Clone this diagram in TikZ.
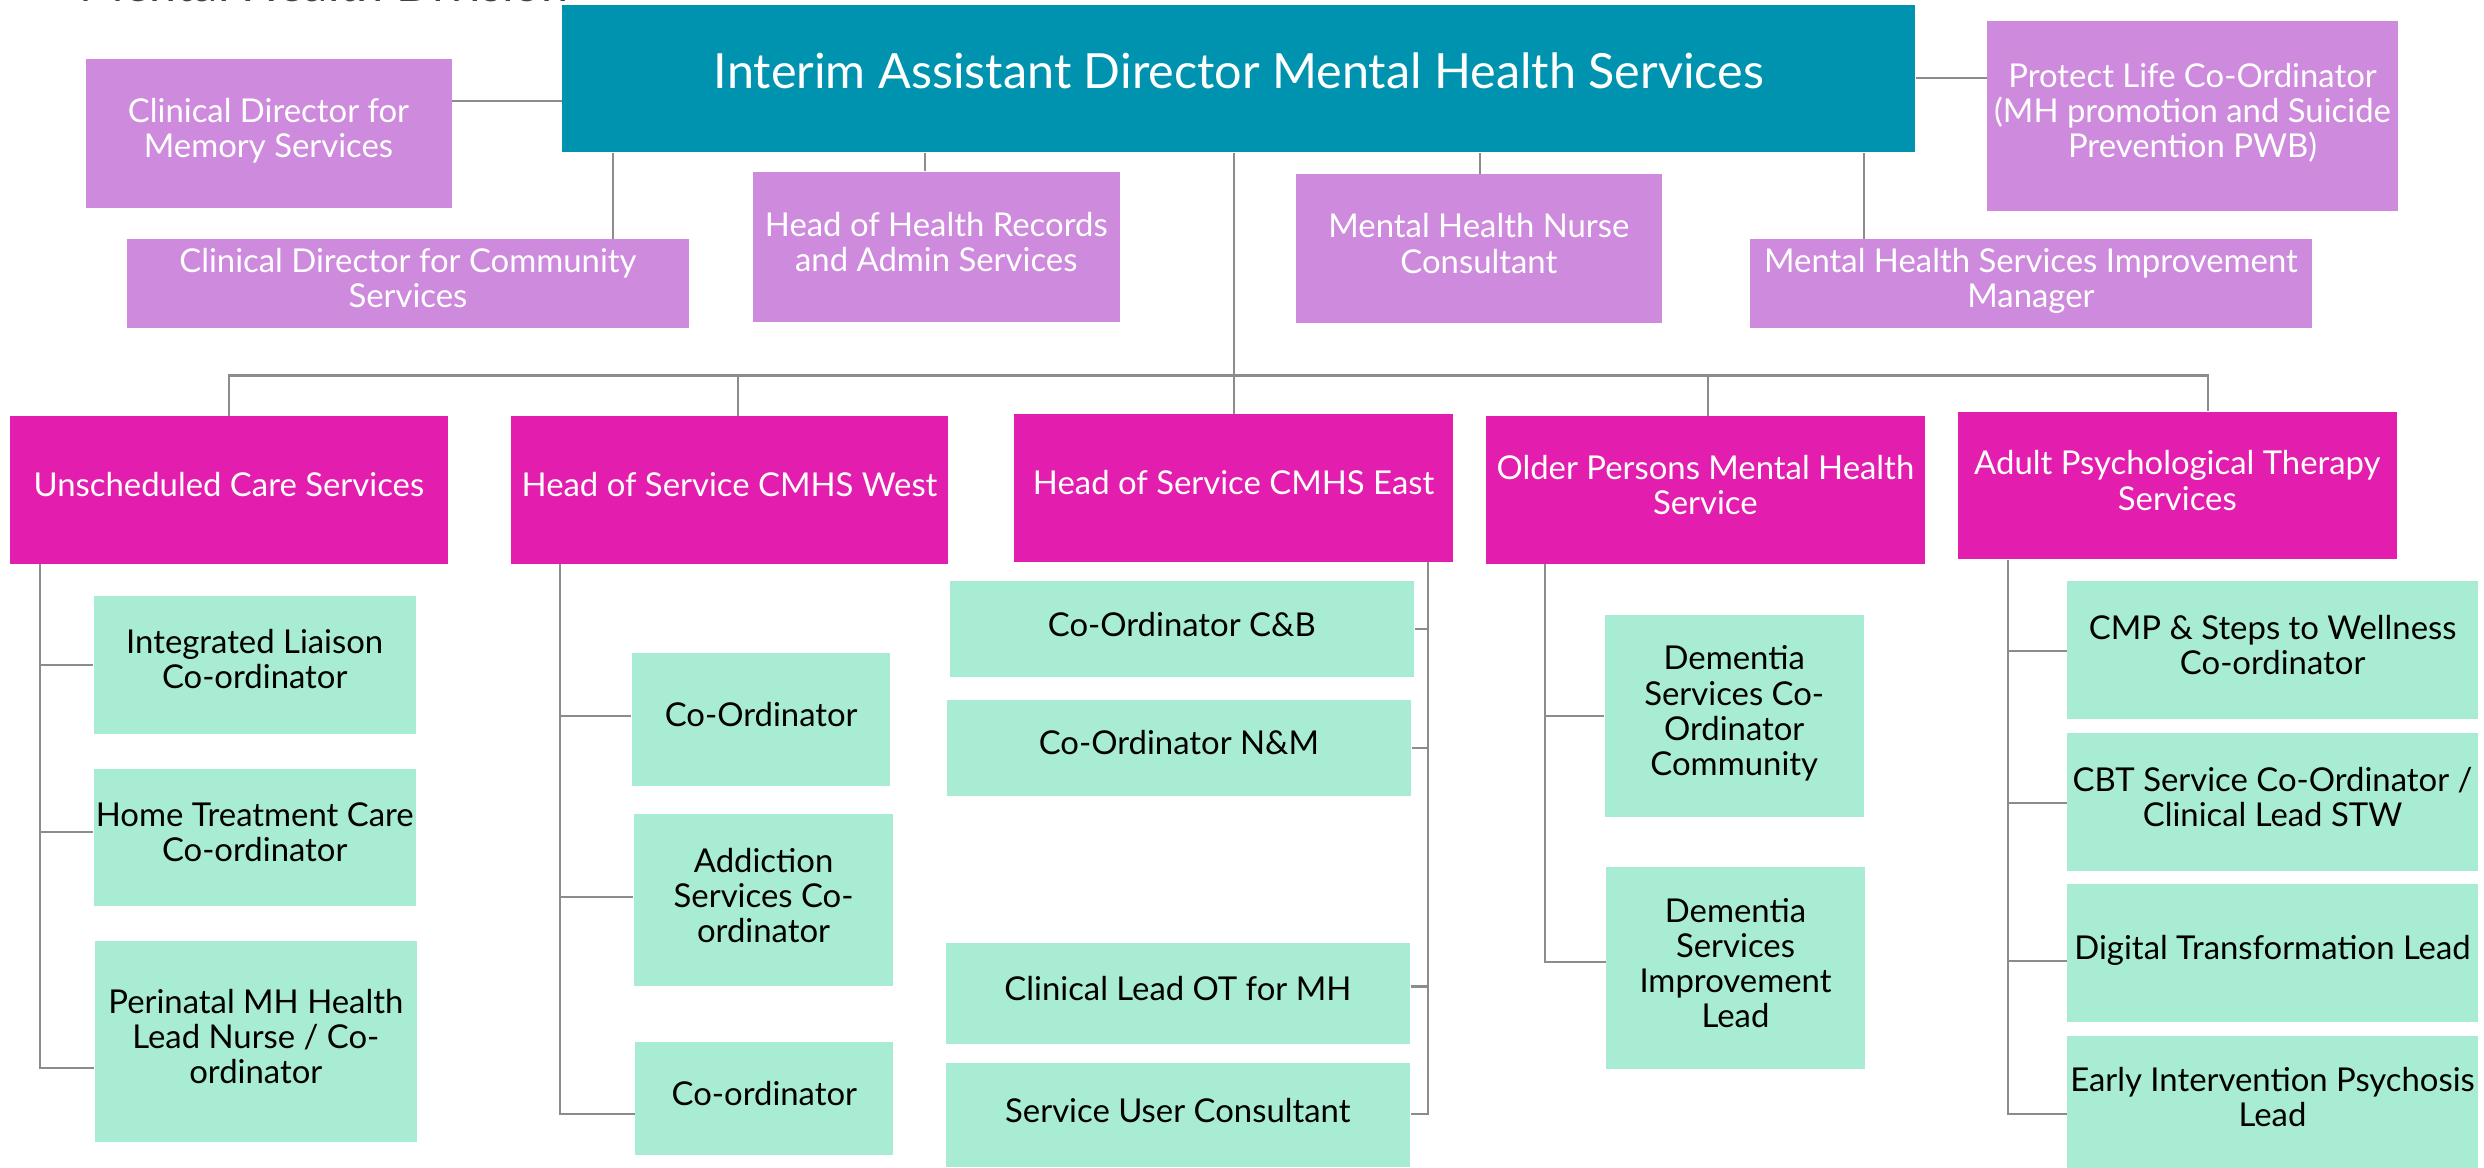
\documentclass[tikz,border=0pt]{standalone}
\usepackage{fontspec}
\setmainfont{Lato}
\definecolor{headteal}{RGB}{0,147,176}
\definecolor{staffpurple}{RGB}{206,138,220}
\definecolor{leadmagenta}{RGB}{227,29,174}
\definecolor{teammint}{RGB}{168,236,211}
\definecolor{edgegrey}{RGB}{140,140,140}
\definecolor{titlegrey}{RGB}{64,64,64}
\begin{document}
\begin{tikzpicture}[x=0.15842mm, y=-0.15842mm, dims/.style 2 args={minimum width=#1*0.15842mm, minimum height=#2*0.15842mm}, box_style/.style={rectangle, inner sep=0pt, align=center, text depth=3pt, font=\fontsize{9.35}{10}\selectfont}, head_style/.style={box_style, fill=headteal, text=white, text depth=4.5pt, font=\fontsize{13.8}{16}\selectfont}, staff_style/.style={box_style, fill=staffpurple, text=white}, lead_style/.style={box_style, fill=leadmagenta, text=white}, team_style/.style={box_style, fill=teammint, text=black}, edge_style/.style={draw=edgegrey, line width=0.6pt}]
      \useasboundingbox (0,0) rectangle (1568,737);
      \draw
        (50,1) node[anchor=base west, inner sep=0pt, text=titlegrey, font=\fontsize{13.8}{16}\selectfont] (division){Mental Health Division}
        (782,49.5) node[head_style, dims={854}{93}] (director){Interim Assistant Director Mental Health Services}
        (169.5,84) node[staff_style, dims={231}{94}] (memory){Clinical Director for\\Memory Services}
        (257.5,179) node[staff_style, dims={355}{56}] (community){Clinical Director for Community\\Services}
        (591,156) node[staff_style, dims={232}{95}] (records){Head of Health Records\\and Admin Services}
        (933.5,157) node[staff_style, dims={231}{94}] (nurse){Mental Health Nurse\\Consultant}
        (1384,73) node[staff_style, dims={259}{120}] (protect){Protect Life Co-Ordinator\\(MH promotion and Suicide\\Prevention PWB)}
        (1282,179) node[staff_style, dims={355}{56}] (improvement){Mental Health Services Improvement\\Manager}
        (144.5,309.3) node[lead_style, dims={277}{93}] (unscheduled){Unscheduled Care Services}
        (460.5,309.3) node[lead_style, dims={276}{93}] (west){Head of Service CMHS West}
        (778.7,308) node[lead_style, dims={277}{93}] (east){Head of Service CMHS East}
        (1076.5,309.3) node[lead_style, dims={277}{93}] (older){Older Persons Mental Health\\Service}
        (1374.4,306.6) node[lead_style, dims={277}{93}] (therapy){Adult Psychological Therapy\\Services}
        (160.8,419.5) node[team_style, dims={203.5}{87}] (liaison){Integrated Liaison\\Co-ordinator}
        (160.8,528.8) node[team_style, dims={203.5}{86.5}] (hometx){Home Treatment Care\\Co-ordinator}
        (161.5,657.5) node[team_style, dims={203}{127}] (perinatal){Perinatal MH Health\\Lead Nurse / Co-\\ordinator}
        (480.5,454.2) node[team_style, dims={163}{83.6}] (westco){Co-Ordinator}
        (482,568.3) node[team_style, dims={164}{108.7}] (addiction){Addiction\\Services Co-\\ordinator}
        (482.5,693.4) node[team_style, dims={163}{70.8}] (westco2){Co-ordinator}
        (746,397.3) node[team_style, dims={293}{60.6}] (eastcb){Co-Ordinator C\&B}
        (744.2,472) node[team_style, dims={292.7}{60.3}] (eastnm){Co-Ordinator N\&M}
        (743.5,627) node[team_style, dims={293}{64}] (otlead){Clinical Lead OT for MH}
        (743.5,704) node[team_style, dims={293}{65.5}] (usercons){Service User Consultant}
        (1094.7,451.9) node[team_style, dims={163.4}{127.1}] (demco){Dementia\\Services Co-\\Ordinator\\Community}
        (1095.5,611) node[team_style, dims={163}{127.4}] (demimp){Dementia\\Services\\Improvement\\Lead}
        (1434.6,410.3) node[team_style, dims={259.2}{86.5}] (cmp){CMP \& Steps to Wellness\\Co-ordinator}
        (1434.5,506.3) node[team_style, dims={259}{87}] (cbt){CBT Service Co-Ordinator /\\Clinical Lead STW}
        (1434.5,601.6) node[team_style, dims={259}{87}] (digital){Digital Transformation Lead}
        (1434.5,695.8) node[team_style, dims={259}{83.5}] (psychosis){Early Intervention Psychosis\\Lead};
      \begin{scope}[-]
        \draw[edge_style] (memory.east |- 0,64) -- (director.west |- 0,64);
        \draw[edge_style] (director.south -| 387,0) -- (community.north -| 387,0);
        \draw[edge_style] (director.south -| 584,0) -- (records.north -| 584,0);
        \draw[edge_style] (director.south -| 934,0) -- (nurse.north -| 934,0);
        \draw[edge_style] (director.east) -- (director.east -| protect.west);
        \draw[edge_style] (director.south -| 1176.5,0) -- (improvement.north -| 1176.5,0);
        \draw[edge_style] (director.south -| east.north) |- (unscheduled.north |- 0,237) -- (unscheduled.north);
        \draw[edge_style] (director.south -| east.north) |- (466,237) -- (west.north -| 466,0);
        \draw[edge_style] (director.south -| east.north) -- (east.north);
        \draw[edge_style] (director.south -| east.north) |- (1078,237) -- (older.north -| 1078,0);
        \draw[edge_style] (director.south -| east.north) |- (1394,237) -- (therapy.north -| 1394,0);
        \draw[edge_style] (unscheduled.south -| 25,0) |- (liaison.west |- 0,419.8);
        \draw[edge_style] (unscheduled.south -| 25,0) |- (hometx.west |- 0,525);
        \draw[edge_style] (unscheduled.south -| 25,0) |- (perinatal.west |- 0,674);
        \draw[edge_style] (west.south -| 353.5,0) |- (westco.west |- 0,452);
        \draw[edge_style] (west.south -| 353.5,0) |- (addiction.west |- 0,566);
        \draw[edge_style] (west.south -| 353.5,0) |- (westco2.west |- 0,703);
        \draw[edge_style] (east.south -| 901.5,0) |- (eastcb.east |- 0,397);
        \draw[edge_style] (east.south -| 901.5,0) |- (eastnm.east |- 0,472);
        \draw[edge_style] (east.south -| 901.5,0) |- (otlead.east |- 0,622.7);
        \draw[edge_style] (east.south -| 901.5,0) |- (usercons.east |- 0,703);
        \draw[edge_style] (older.south -| 975,0) |- (demco.west |- 0,452);
        \draw[edge_style] (older.south -| 975,0) |- (demimp.west |- 0,607.3);
        \draw[edge_style] (therapy.south -| 1267.4,0) |- (cmp.west |- 0,410.9);
        \draw[edge_style] (therapy.south -| 1267.4,0) |- (cbt.west |- 0,506.7);
        \draw[edge_style] (therapy.south -| 1267.4,0) |- (digital.west |- 0,606.7);
        \draw[edge_style] (therapy.south -| 1267.4,0) |- (psychosis.west |- 0,703);
      \end{scope}
    \end{tikzpicture}
\end{document}
